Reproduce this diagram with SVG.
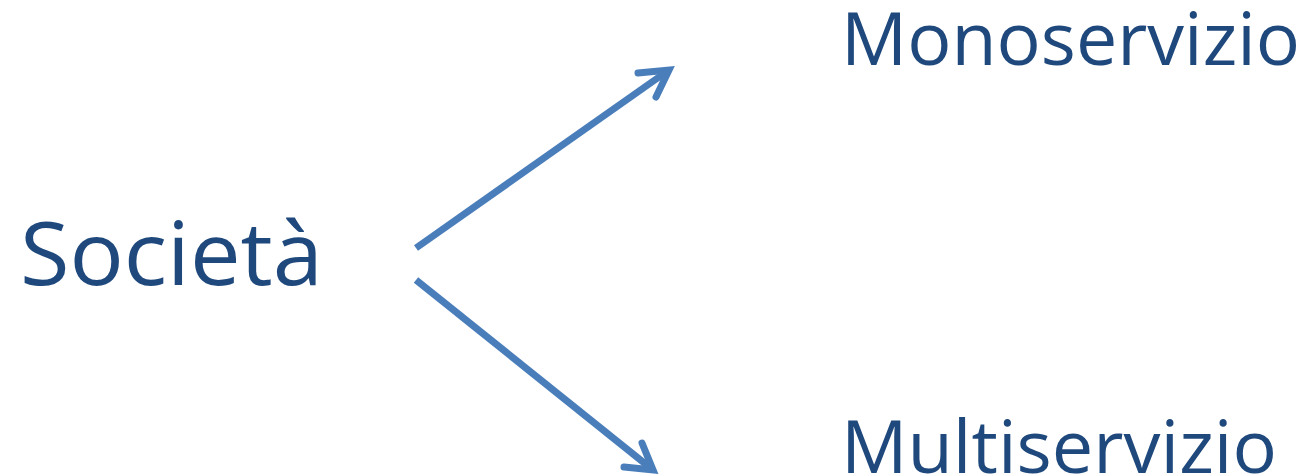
<svg xmlns="http://www.w3.org/2000/svg" width="1307" height="476" viewBox="0 0 1307 476">
<style>
.t{font-family:"Open Sans","Noto Sans","Liberation Sans",sans-serif;fill:#1F497D}
.c{stroke:#4A7EBB;stroke-width:7;fill:none;stroke-linecap:butt}
.h{stroke:#4A7EBB;stroke-width:7;fill:none;stroke-linecap:round;stroke-linejoin:miter}
</style>
<rect width="1307" height="476" fill="#fff"/>
<g id="societa"><text class="t" x="20" y="285" font-size="87" textLength="303" lengthAdjust="spacingAndGlyphs">Società</text></g>
<g id="monoservizio"><text class="t" x="841" y="65" font-size="73" textLength="459" lengthAdjust="spacingAndGlyphs">Monoservizio</text></g>
<g id="multiservizio"><text class="t" x="841" y="473" font-size="73" textLength="436" lengthAdjust="spacingAndGlyphs">Multiservizio</text></g>
<g id="connectors">
<path class="c" d="M416,248 L669,70"/>
<path class="h" d="M638,73 L669,70 L656,97"/>
<path class="c" d="M416,280 L653,470"/>
<path class="h" d="M624,467 L653,470 L642,443"/>
</g>
</svg>
